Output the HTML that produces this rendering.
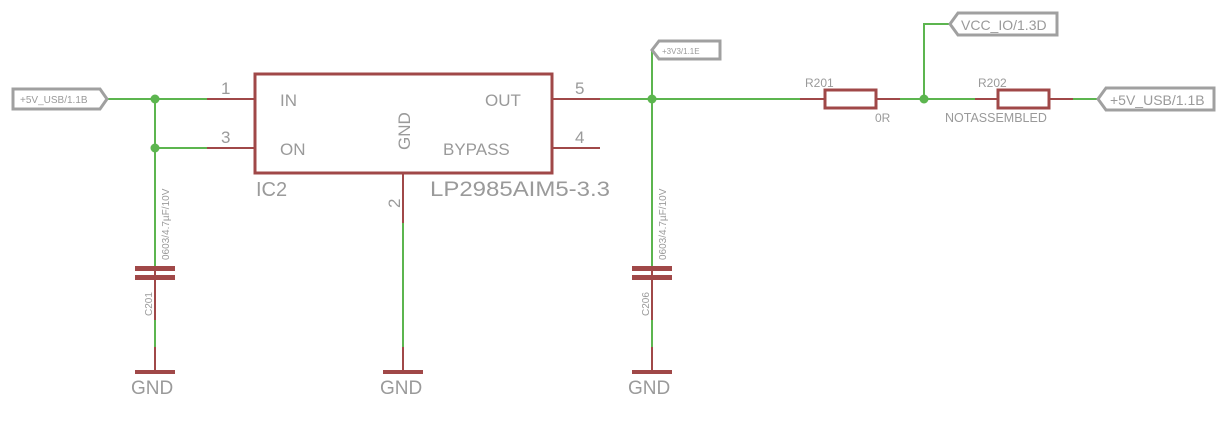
<!DOCTYPE html>
<html><head><meta charset="utf-8"><style>body{margin:0;background:#fff}svg{display:block}text{font-family:"Liberation Sans",sans-serif;fill:#9a9a9a}</style></head><body>
<svg width="1229" height="421" viewBox="0 0 1229 421" xmlns="http://www.w3.org/2000/svg">
<g stroke="#5cb54f" stroke-width="2" fill="none">
<path d="M107 99H207M155 99V267M155 148H207"/>
<path d="M155 282V347M403 223V347"/>
<path d="M600 99H800M652 50V267M652 282V347"/>
<path d="M900 99H975M924 99V24H950M1073 99H1098"/>
</g>
<g fill="#5cb54f"><circle cx="155" cy="99" r="4.5"/><circle cx="155" cy="148" r="4.5"/><circle cx="652" cy="99" r="4.5"/><circle cx="924" cy="99" r="4.5"/></g>
<g stroke="#a04848" stroke-width="2" fill="none">
<rect x="255" y="74" width="297" height="99" stroke-width="3"/>
<path d="M207 99H255M207 148H255M552 99H600M552 148H600M403 173V223M403 347V372M155 347V372M652 347V372"/>
<path d="M800 99H825M876 99H900M975 99H998M1049 99H1073"/>
<rect x="825" y="90" width="51" height="18" stroke-width="3"/>
<rect x="998" y="90" width="51" height="18" stroke-width="3"/>
</g>
<g fill="#a04848">
<rect x="135" y="266" width="40" height="5"/><rect x="135" y="275" width="40" height="5"/>
<rect x="632" y="266" width="40" height="5"/><rect x="632" y="275" width="40" height="5"/>
<rect x="135" y="370" width="40" height="4"/><rect x="383" y="370" width="40" height="4"/><rect x="632" y="370" width="40" height="4"/>
</g>
<g stroke="#a04848" stroke-width="2"><path d="M155 271V275M652 271V275M155 280V320M652 280V320"/></g>
<g fill="#fff" stroke="#a0a0a0" stroke-width="3">
<path d="M13 89H100L107 99L100 109H13Z"/>
<path d="M1098 99L1106 88H1214V110H1106Z"/>
<path d="M652 50L659 41H720V59H659Z"/>
<path d="M950 24L958 13H1057V35H958Z"/>
</g>
<g font-size="10"><text x="20" y="103">+5V_USB/1.1B</text><text x="1110" y="105" font-size="14">+5V_USB/1.1B</text>
<text x="662" y="54" font-size="8">+3V3/1.1E</text><text x="961" y="30" font-size="14">VCC_IO/1.3D</text>
<text x="805" y="87" font-size="12">R201</text><text x="875" y="122" font-size="12">0R</text>
<text x="978" y="87" font-size="12">R202</text><text x="945" y="122" font-size="12.5">NOTASSEMBLED</text></g>
<g font-size="17"><text x="280" y="106">IN</text><text x="280" y="155">ON</text><text x="485" y="106">OUT</text><text x="443" y="155">BYPASS</text>
<text x="221" y="94">1</text><text x="221" y="143">3</text><text x="575" y="94">5</text><text x="575" y="143">4</text>
<text x="256" y="196" font-size="20">IC2</text><text x="430" y="196" font-size="21" textLength="180" lengthAdjust="spacingAndGlyphs">LP2985AIM5-3.3</text>
<text transform="translate(410,150) rotate(-90)">GND</text>
<text transform="translate(400,208) rotate(-90)">2</text>
<text x="131" y="394" font-size="19">GND</text><text x="380" y="394" font-size="19">GND</text><text x="628" y="394" font-size="19">GND</text></g>
<g font-size="10"><text transform="translate(169,260) rotate(-90)">0603/4.7µF/10V</text><text transform="translate(666,260) rotate(-90)">0603/4.7µF/10V</text>
<text transform="translate(152,316) rotate(-90)">C201</text><text transform="translate(649,316) rotate(-90)">C206</text></g>
</svg></body></html>
